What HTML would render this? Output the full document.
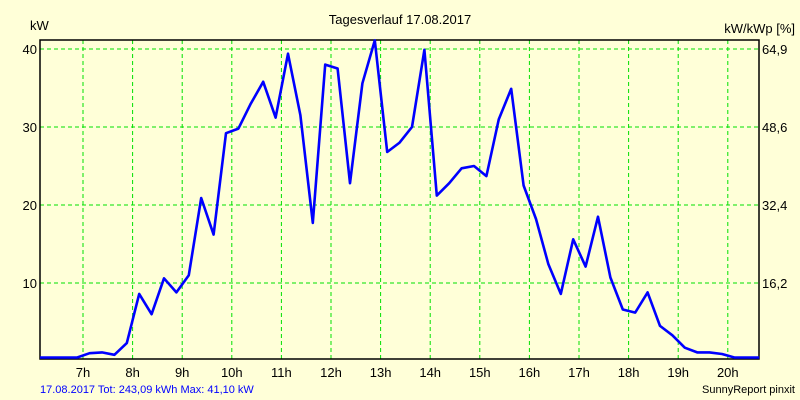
<!DOCTYPE html>
<html><head><meta charset="utf-8">
<style>
html,body{margin:0;padding:0;background:#FFFFD8;}
svg{display:block;font-family:"Liberation Sans",sans-serif;}
</style></head>
<body>
<svg id="chart" width="800" height="400" viewBox="0 0 800 400">
<rect x="0" y="0" width="800" height="400" fill="#FFFFD8"/>
<text x="400" y="24" font-size="13" text-anchor="middle" fill="#000">Tagesverlauf 17.08.2017</text>
<text x="30" y="30" font-size="13" fill="#000">kW</text>
<text x="795" y="33" font-size="13" text-anchor="end" fill="#000">kW/kWp [%]</text>
<g id="grid"></g>
<g id="axes"></g>
<g id="series"></g>
<text x="40" y="393" font-size="11" fill="#0000FF">17.08.2017 Tot: 243,09 kWh Max: 41,10 kW</text>
<text x="795" y="393" font-size="11" text-anchor="end" fill="#000">SunnyReport pinxit</text>
</svg>
<script>
const hourLabels = ["7h","8h","9h","10h","11h","12h","13h","14h","15h","16h","17h","18h","19h","20h"];
const hourValues = [7,8,9,10,11,12,13,14,15,16,17,18,19,20];
const leftTicks = [10,20,30,40];
const rightTickLabels = ["16,2","32,4","48,6","64,9"];
const startHour = 6.133;
const stepHours = 0.25;
const power = [0,0,0,0.3,1.0,1.1,0.8,2.3,8.6,6.0,10.6,8.8,11.0,20.9,16.2,29.2,29.8,33.0,35.8,31.2,39.4,31.5,17.7,38.0,37.5,22.8,35.6,41.1,26.8,28.0,30.0,39.9,21.2,22.8,24.7,25.0,23.7,31.0,34.9,22.5,18.2,12.4,8.6,15.6,12.1,18.5,10.7,6.6,6.2,8.8,4.5,3.3,1.7,1.1,1.1,0.9,0.2,0,0];

const NS="http://www.w3.org/2000/svg";
const L=40,R=759,T=40,B=359;
function xScale(h){return 83+(h-7)*49.6;}
function yScale(v){return Math.min(B-1.5, 361-v*7.8);}
function mk(tag,attrs,parent){const e=document.createElementNS(NS,tag);for(const k in attrs)e.setAttribute(k,attrs[k]);parent.appendChild(e);return e;}
const grid=document.getElementById('grid'),axes=document.getElementById('axes'),series=document.getElementById('series');

hourValues.forEach((h,i)=>{
  const x=xScale(h);
  const gl=mk('line',{x1:x,y1:T,x2:x,y2:B,stroke:'#00E000','stroke-width':1,'stroke-dasharray':'4,3'},grid);
  
  
  const t=mk('text',{x:x,y:377,'font-size':13,'text-anchor':'middle',fill:'#000'},axes);
  t.textContent=hourLabels[i];
  
  
});
leftTicks.forEach((v,i)=>{
  const y=yScale(v);
  const gl=mk('line',{x1:L,y1:y,x2:R,y2:y,stroke:'#00E000','stroke-width':1,'stroke-dasharray':'4,3'},grid);
  
  
  const t=mk('text',{x:37,y:y+5,'font-size':13,'text-anchor':'end',fill:'#000'},axes);
  t.textContent=String(v);
  
  
  const t2=mk('text',{x:762,y:y+5,'font-size':13,fill:'#000'},axes);
  t2.textContent=rightTickLabels[i];
  
  
});
const frame=mk('rect',{x:L,y:T,width:R-L,height:B-T,fill:'none',stroke:'#000','stroke-width':1.5},axes);



const pts=power.map((v,i)=>xScale(startHour+i*stepHours).toFixed(1)+','+yScale(v).toFixed(1)).join(' ');
const line=mk('polyline',{points:pts,fill:'none',stroke:'#0000FF','stroke-width':2.6,'stroke-linejoin':'round'},series);


</script>
</body></html>
